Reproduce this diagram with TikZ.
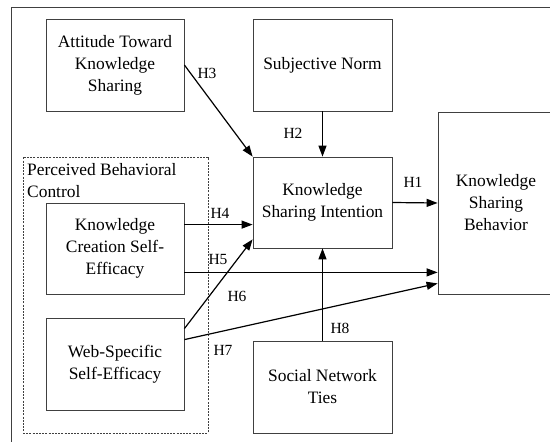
\documentclass[tikz,border=0pt]{standalone}
\usepackage{fontspec}
\setmainfont{Liberation Serif}
\usetikzlibrary{arrows.meta}

\tikzset{
  construct/.style={draw=black!75, line width=0.8pt, align=center, inner sep=2pt,
    minimum width=139pt, minimum height=92pt},
  hyp/.style={-{Triangle[length=11pt,width=8pt]}, line width=1.2pt},
  hlabel/.style={font=\fontsize{15.5}{18}\selectfont, inner sep=0pt},
}

\begin{document}
\begin{tikzpicture}[x=1pt,y=-1pt,every node/.style={font=\fontsize{17.4}{22}\selectfont}]
\clip (0,0) rectangle (550,442);
\draw[black!75, line width=0.8pt] (11,7) rectangle (575,465);

% perceived behavioral control group
\node[draw=black!75, line width=0.6pt, dash pattern=on 2pt off 1.2pt, inner sep=0pt,
  minimum width=185pt, minimum height=276pt] (pbc) at (115.5,295) {};
\node[anchor=north west, align=left, inner sep=0pt] (pbctext) at (27,163)
  {Perceived Behavioral\\Control};

% constructs
\node[construct, minimum width=138pt] (att) at (115,65) {Attitude Toward\\Knowledge\\Sharing};
\node[construct] (sub) at (322.5,65) {Subjective Norm};
\node[construct, minimum height=91pt] (int) at (322.5,202.5) {Knowledge\\Sharing Intention};
\node[construct, minimum width=116pt, minimum height=182pt] (beh) at (496,203)
  {Knowledge\\Sharing\\Behavior};
\node[construct, minimum width=138pt, minimum height=91pt] (kcse) at (115,248.5)
  {Knowledge\\Creation Self-\\Efficacy};
\node[construct, minimum width=138pt] (wsse) at (115,364) {Web-Specific\\Self-Efficacy};
\node[construct] (snt) at (322.5,387) {Social Network\\Ties};

% hypotheses
\draw[hyp] (int.east) -- (beh.west);
\draw[hyp] (sub.south) -- (int.north);
\draw[hyp] (att.east) -- (int.north west);
\draw[hyp] (kcse.north east) ++(0,22) coordinate (h4s) -- (h4s -| int.west);
\draw[hyp] (kcse.south east) ++(0,-22) coordinate (h5s) -- (h5s -| beh.west);
\draw[hyp] (wsse.north east) ++(0,11) coordinate (h6s) -- ([yshift=9pt]int.south west);
\draw[hyp] (wsse.north east) ++(0,22) coordinate (h7s) -- ([yshift=11pt]beh.south west);
\draw[hyp] (snt.north) -- (int.south);

\node[hlabel] (h1) at (413,182) {H1};
\node[hlabel] (h2) at (293,133) {H2};
\node[hlabel] (h3) at (207,73) {H3};
\node[hlabel] (h4) at (220,213) {H4};
\node[hlabel] (h5) at (218,259) {H5};
\node[hlabel] (h6) at (237,296) {H6};
\node[hlabel] (h7) at (223,350) {H7};
\node[hlabel] (h8) at (340,328) {H8};
\end{tikzpicture}
\end{document}
